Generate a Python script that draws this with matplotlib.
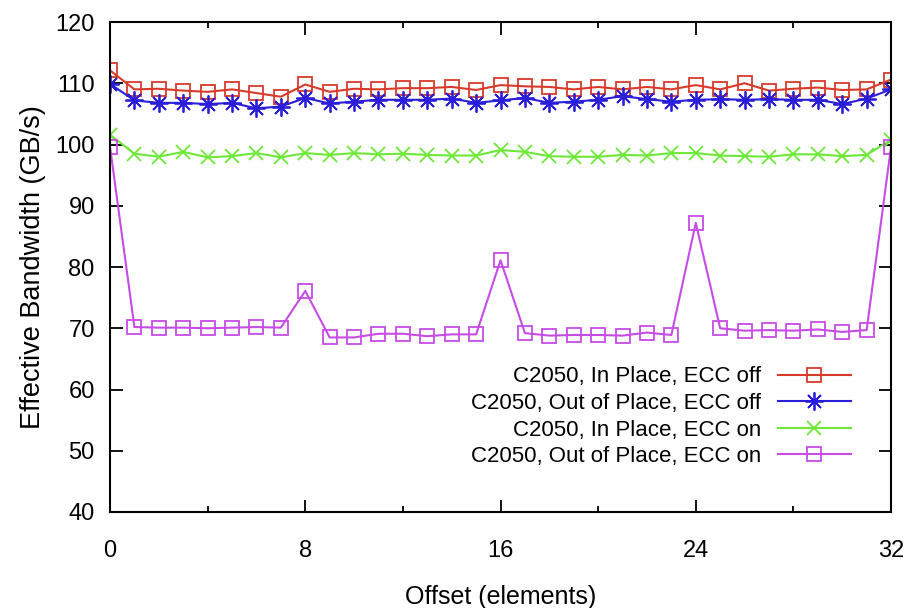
import matplotlib
matplotlib.use("Agg")
import matplotlib.pyplot as plt
from matplotlib.ticker import MultipleLocator

# ── data ──────────────────────────────────────────────────────────────────────
offsets = list(range(33))

in_place_ecc_off = [112.1, 109.0, 109.1, 108.8, 108.6, 109.0, 108.4, 107.8, 109.8, 108.6,
                    109.1, 109.0, 109.2, 109.2, 109.4, 108.9, 109.7, 109.5, 109.4, 109.0,
                    109.4, 109.0, 109.4, 109.0, 109.7, 109.0, 110.0, 108.8, 109.1, 109.3,
                    108.9, 109.0, 110.6]
out_place_ecc_off = [109.9, 107.2, 106.8, 106.8, 106.6, 106.8, 105.9, 106.2, 107.6, 106.7,
                     107.0, 107.3, 107.3, 107.3, 107.5, 106.8, 107.2, 107.6, 106.8, 107.0,
                     107.3, 107.9, 107.4, 107.0, 107.3, 107.4, 107.3, 107.4, 107.3, 107.3,
                     106.6, 107.5, 109.0]
in_place_ecc_on = [101.6, 98.5, 98.0, 98.8, 97.9, 98.1, 98.6, 97.9, 98.6, 98.3,
                   98.6, 98.4, 98.5, 98.3, 98.2, 98.2, 99.1, 98.8, 98.1, 98.0,
                   98.0, 98.3, 98.2, 98.6, 98.6, 98.2, 98.1, 98.0, 98.4, 98.4,
                   98.1, 98.3, 100.8]
out_place_ecc_on = [99.6, 70.2, 70.1, 70.1, 70.0, 70.1, 70.2, 70.1, 76.1, 68.5,
                    68.5, 69.1, 69.1, 68.7, 69.0, 69.0, 81.1, 69.2, 68.8, 68.9,
                    68.9, 68.8, 69.3, 68.9, 87.2, 70.0, 69.6, 69.7, 69.6, 69.8,
                    69.4, 69.7, 99.6]

labels = ["C2050, In Place, ECC off", "C2050, Out of Place, ECC off",
          "C2050, In Place, ECC on", "C2050, Out of Place, ECC on"]

plt.rcParams["font.family"] = ["Liberation Sans", "DejaVu Sans"]

fig = plt.figure(figsize=(9.07, 6.08), dpi=100)
ax = fig.add_axes([0.1213, 0.1579, 0.8611, 0.8059])

ax.plot(offsets, in_place_ecc_off, color="#d83b2b", lw=1.5, marker="s", ms=9.5,
        mfc="none", mec="#d83b2b", mew=1.3, label=labels[0])
ax.plot(offsets, out_place_ecc_off, color="#2a1ed8", lw=1.5, marker=(8, 2, 0), ms=13,
        mec="#2a1ed8", mew=1.3, label=labels[1])
ax.plot(offsets, in_place_ecc_on, color="#6ee838", lw=1.5, marker="x", ms=10,
        mec="#6ee838", mew=1.3, label=labels[2])
ax.plot(offsets, out_place_ecc_on, color="#c74ce6", lw=1.5, marker="s", ms=9.5,
        mfc="none", mec="#c74ce6", mew=1.3, label=labels[3])

ax.set_xlim(0, 32)
ax.set_ylim(40, 120)
ax.xaxis.set_major_locator(MultipleLocator(8))
ax.xaxis.set_minor_locator(MultipleLocator(4))
ax.yaxis.set_major_locator(MultipleLocator(10))

ax.tick_params(which="both", direction="in", top=True, right=True, width=1.3)
ax.tick_params(which="major", length=9, labelsize=17)
ax.tick_params(which="minor", length=4.5)
ax.tick_params(axis="x", which="major", pad=20)
ax.tick_params(axis="y", which="major", pad=11)
for spine in ax.spines.values():
    spine.set_linewidth(1.5)

ax.set_xlabel("Offset (elements)", fontsize=18, labelpad=17)
ax.set_ylabel("Effective Bandwidth (GB/s)", fontsize=19.5, labelpad=7)

# legend: text on the left, sample on the right (gnuplot style)
ax.legend(loc="lower right", bbox_to_anchor=(0.963, 0.069), markerfirst=False,
          frameon=False, fontsize=16, handlelength=3.3, handletextpad=0.75,
          labelspacing=0.25, borderpad=0)

fig.savefig("out.png", dpi=100, facecolor="white")
plt.close(fig)
